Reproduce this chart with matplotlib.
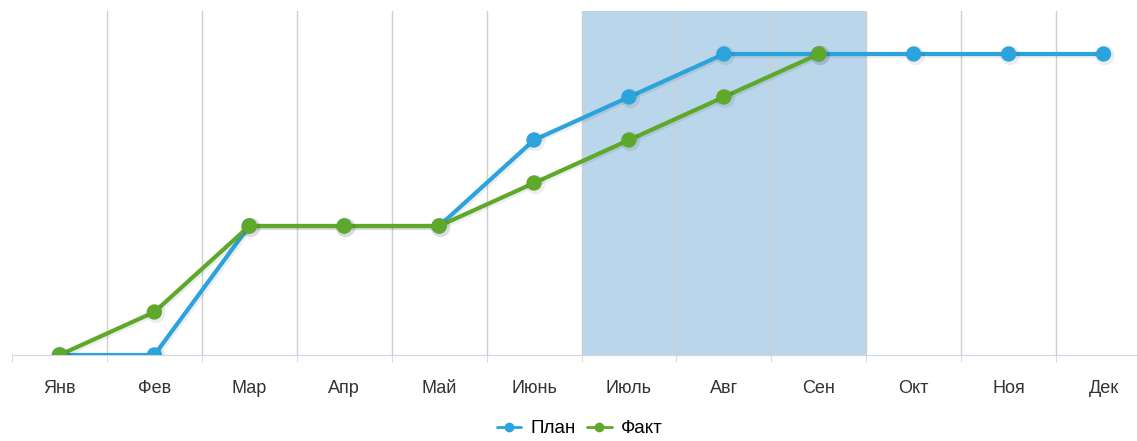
import matplotlib.pyplot as plt
import matplotlib.patheffects as pe
import numpy as np

months = ["Янв", "Фев", "Мар", "Апр", "Май", "Июнь", "Июль", "Авг", "Сен", "Окт", "Ноя", "Дек"]
plan = [0, 0, 3, 3, 3, 5, 6, 7, 7, 7, 7, 7]
fact = [0, 1, 3, 3, 3, 4, 5, 6, 7]
band_start, band_end = 5.5, 8.5

plt.rcParams['font.family'] = ['Liberation Sans', 'DejaVu Sans']

fig = plt.figure(figsize=(11.37, 4.41), dpi=100)
ax = fig.add_axes([12 / 1137, 1 - 355 / 441, 1139 / 1137, 344 / 441])

x = np.arange(len(months))
ax.set_xlim(-0.5, len(months) - 0.5)
ax.set_ylim(0, 8)

ax.axvspan(band_start, band_end, color="#bad6ea", zorder=0.5, lw=0)

# vertical grid on category boundaries
bounds = np.arange(-0.5, len(months), 1.0)
for b in bounds[1:]:
    ax.axvline(b, color="#cfcfcf", lw=1, zorder=0.6)

shadow = [pe.SimpleLineShadow(offset=(1, -1), shadow_color="black", alpha=0.07, linewidth=4), pe.Normal()]
ax.plot(x, plan, color="#2ba3dc", lw=3, marker="o", ms=10, label="План",
        zorder=3, path_effects=shadow, solid_capstyle="round")
ax.plot(x[:len(fact)], fact, color="#5ea82a", lw=3, marker="o", ms=10, label="Факт",
        zorder=4, path_effects=shadow, solid_capstyle="round")

for s in ["top", "right", "left"]:
    ax.spines[s].set_visible(False)
ax.spines["bottom"].set_color("#ccd6eb")
ax.set_yticks([])
ax.set_xticks(x)
ax.set_xticklabels(months, fontsize=13, color="#333333")
ax.tick_params(axis="x", which="major", length=0, pad=18)
ax.set_xticks(bounds, minor=True)
ax.tick_params(axis="x", which="minor", length=5, color="#ccd6eb")

leg = fig.legend(loc="center", bbox_to_anchor=(0.51, 0.028), ncol=2, frameon=False,
                 fontsize=13.5, handlelength=1.3, handletextpad=0.5, columnspacing=0.6,
                 markerscale=0.6, borderpad=0.1)
for h in leg.legend_handles:
    h.set_linewidth(2)
    h.set_path_effects([])

fig.savefig("out.png", dpi=100)
